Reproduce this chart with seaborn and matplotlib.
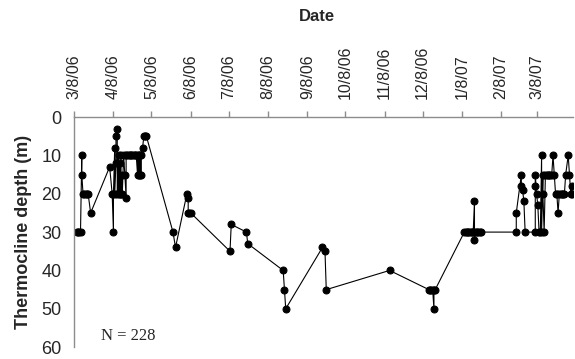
import pandas as pd
import matplotlib
matplotlib.use('Agg')
import matplotlib.pyplot as plt
import seaborn as sns

# Sampling dates and thermocline depth
sample_dates = [
    # March 2006
    '2006-03-10', '2006-03-11', '2006-03-12', '2006-03-13', '2006-03-14', '2006-03-14',
    '2006-03-15', '2006-03-16', '2006-03-17', '2006-03-18', '2006-03-19', '2006-03-21',
    # April 2006
    '2006-04-05', '2006-04-07', '2006-04-08', '2006-04-08', '2006-04-09', '2006-04-09',
    '2006-04-10', '2006-04-10', '2006-04-11', '2006-04-11', '2006-04-12', '2006-04-12',
    '2006-04-13', '2006-04-13', '2006-04-14', '2006-04-14', '2006-04-15', '2006-04-15',
    '2006-04-16', '2006-04-17', '2006-04-18', '2006-04-18', '2006-04-19', '2006-04-20',
    '2006-04-21', '2006-04-22', '2006-04-23', '2006-04-24', '2006-04-25', '2006-04-26',
    '2006-04-27', '2006-04-27', '2006-04-28', '2006-04-28', '2006-04-29', '2006-04-29',
    '2006-04-30', '2006-04-30', '2006-05-01', '2006-05-02', '2006-05-03', '2006-05-04',
    # May - December 2006
    '2006-05-25', '2006-05-27', '2006-06-05', '2006-06-06', '2006-06-06', '2006-06-07',
    '2006-06-08', '2006-07-09', '2006-07-10', '2006-07-22', '2006-07-23', '2006-08-20',
    '2006-08-21', '2006-08-22', '2006-09-20', '2006-09-22', '2006-09-23', '2006-11-12',
    '2006-12-13', '2006-12-14', '2006-12-15', '2006-12-16', '2006-12-17', '2006-12-17',
    '2006-12-18',
    # January - February 2007
    '2007-01-10', '2007-01-11', '2007-01-12', '2007-01-13', '2007-01-14', '2007-01-15',
    '2007-01-16', '2007-01-17', '2007-01-18', '2007-01-18', '2007-01-18', '2007-01-19',
    '2007-01-20', '2007-01-21', '2007-01-22', '2007-01-23', '2007-02-20', '2007-02-20',
    '2007-02-24', '2007-02-24', '2007-02-25', '2007-02-26', '2007-02-27',
    # March - April 2007
    '2007-03-07', '2007-03-07', '2007-03-07', '2007-03-08', '2007-03-09', '2007-03-10',
    '2007-03-11', '2007-03-12', '2007-03-12', '2007-03-13', '2007-03-13', '2007-03-14',
    '2007-03-15', '2007-03-16', '2007-03-17', '2007-03-18', '2007-03-19', '2007-03-20',
    '2007-03-21', '2007-03-22', '2007-03-23', '2007-03-24', '2007-03-25', '2007-03-26',
    '2007-03-27', '2007-03-28', '2007-03-29', '2007-03-30', '2007-03-31', '2007-04-02',
    '2007-04-03', '2007-04-04', '2007-04-05', '2007-04-05',
]
depth_m = [
    30, 30, 30, 30, 10, 15,
    20, 20, 20, 20, 20, 25,
    13, 20, 30, 20, 8, 20,
    12, 5, 3, 20, 10, 20,
    12, 20, 10, 20, 15, 20,
    10, 15, 21, 10, 10, 10,
    10, 10, 10, 10, 10, 10,
    15, 10, 15, 10, 15, 10,
    15, 10, 8, 5, 5, 5,
    30, 34, 20, 21, 25, 25,
    25, 35, 28, 30, 33, 40,
    45, 50, 34, 35, 45, 40,
    45, 45, 45, 45, 50, 45,
    45,
    30, 30, 30, 30, 30, 30,
    30, 30, 22, 30, 32, 30,
    30, 30, 30, 30, 30, 25,
    15, 18, 19, 22, 30,
    30, 18, 15, 20, 23, 30,
    30, 10, 30, 15, 20, 30,
    15, 15, 15, 15, 15, 15,
    10, 15, 20, 20, 25, 20,
    20, 20, 20, 20, 15, 10,
    15, 20, 18, 20,
]

tick_dates = ['2006-03-08', '2006-04-08', '2006-05-08', '2006-06-08', '2006-07-08',
              '2006-08-08', '2006-09-08', '2006-10-08', '2006-11-08', '2006-12-08',
              '2007-01-08', '2007-02-08', '2007-03-08']
tick_labels = ['3/8/06', '4/8/06', '5/8/06', '6/8/06', '7/8/06', '8/8/06', '9/8/06',
               '10/8/06', '11/8/06', '12/8/06', '1/8/07', '2/8/07', '3/8/07']
depth_ticks = [0, 10, 20, 30, 40, 50, 60]

df = pd.DataFrame({'Date': pd.to_datetime(sample_dates), 'Depth': depth_m})

sns.set_style('white')
plt.rcParams['font.family'] = ['Liberation Sans', 'DejaVu Sans']

fig = plt.figure(figsize=(5.75, 3.59), dpi=100)
ax = fig.add_axes([0.129, 0.033, 0.868, 0.641])

sns.lineplot(data=df, x='Date', y='Depth', estimator=None, sort=False,
             color='black', linewidth=0.8, marker='o', markersize=5,
             markeredgecolor='black', ax=ax)

ax.set_xlim(pd.Timestamp('2006-03-08'), pd.Timestamp('2007-04-06'))
ax.set_ylim(60, 0)
ax.set_yticks(depth_ticks)
ax.set_yticklabels([str(t) for t in depth_ticks], fontsize=13)
ax.set_xticks(pd.to_datetime(tick_dates))
ax.set_xticklabels(tick_labels, rotation=90, fontsize=11.5)

ax.xaxis.tick_top()
ax.xaxis.set_label_position('top')
ax.set_xlabel('Date', fontsize=12, fontweight='bold')
ax.xaxis.set_label_coords(0.487, 1.435)
ax.xaxis.label.set_va('center')
ax.set_ylabel('Thermocline depth (m)', fontsize=13, fontweight='bold', labelpad=7)

for side in ['bottom', 'right']:
    ax.spines[side].set_visible(False)
for side in ['top', 'left']:
    ax.spines[side].set_color('#8c8c8c')
    ax.spines[side].set_linewidth(1)
ax.tick_params(axis='both', direction='out', length=4, width=1, color='#8c8c8c')
ax.tick_params(axis='x', pad=9)
ax.tick_params(axis='y', pad=5)

ax.text(pd.Timestamp('2006-03-29'), 57, 'N = 228', family='Liberation Serif',
        fontsize=12, va='center', ha='left')

fig.savefig('out.png', dpi=100)
